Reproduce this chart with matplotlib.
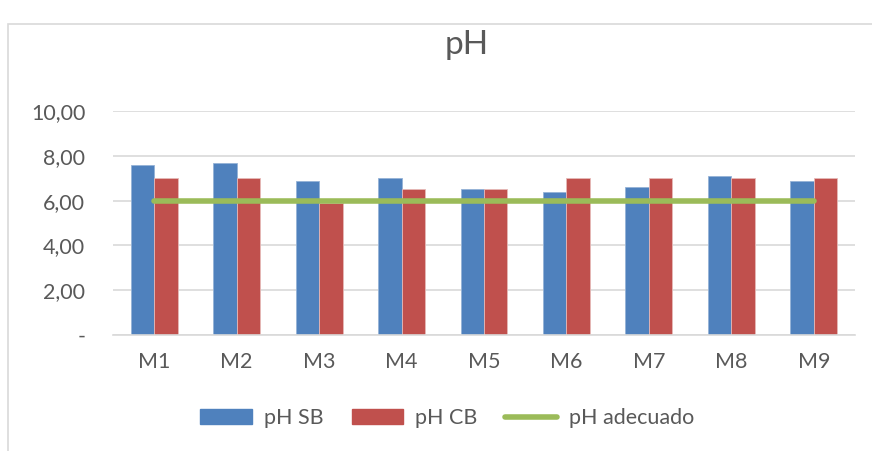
import numpy as np
import matplotlib.pyplot as plt
from matplotlib.patches import Rectangle, Patch
from matplotlib.lines import Line2D
from matplotlib.ticker import FuncFormatter

muestras = ["M1", "M2", "M3", "M4", "M5", "M6", "M7", "M8", "M9"]
ph_sb = [7.6, 7.7, 6.86, 7.0, 6.5, 6.37, 6.62, 7.12, 6.86]
ph_cb = [7.0, 7.0, 5.9, 6.5, 6.5, 7.0, 7.0, 7.0, 7.0]
ph_adecuado = [6.0] * 9

azul = "#4F81BD"
rojo = "#C0504D"
verde = "#9BBB59"
gris_texto = "#595959"

plt.rcParams['font.family'] = ['Lato', 'DejaVu Sans']

fig = plt.figure(figsize=(8.72, 4.51), dpi=100)
ax = fig.add_axes([113/872, 116/451, 742/872, 224/451])

x = np.arange(len(muestras))
ancho = 0.285
ax.bar(x - ancho/2, ph_sb, ancho, color=azul, edgecolor="#95B3D7", linewidth=0.6, zorder=2)
ax.bar(x + ancho/2, ph_cb, ancho, color=rojo, edgecolor="#E6B9B8", linewidth=0.6, zorder=2)
ax.plot(x, ph_adecuado, color=verde, linewidth=4, solid_capstyle="round", zorder=3)

ax.set_xlim(-0.5, len(muestras) - 0.5)
ax.set_ylim(0, 10)
ax.set_yticks([0, 2, 4, 6, 8, 10])
ax.yaxis.set_major_formatter(FuncFormatter(lambda v, p: "-" if v == 0 else f"{v:.2f}".replace(".", ",")))
ax.set_xticks(x)
ax.set_xticklabels(muestras)
ax.grid(axis="y", color="#D9D9D9", linewidth=1.2, zorder=0)
ax.set_axisbelow(True)
for s in ["top", "right", "left"]:
    ax.spines[s].set_visible(False)
ax.spines["bottom"].set_color("#D9D9D9")
ax.spines["bottom"].set_linewidth(1.2)
ax.tick_params(axis="both", length=0, labelsize=15.5, colors=gris_texto)
ax.tick_params(axis="y", pad=20)
ax.tick_params(axis="x", pad=12)

fig.text(0.535, 0.90, "pH", ha="center", va="center", fontsize=24, color=gris_texto)

handles = [
    Patch(facecolor=azul, edgecolor=azul),
    Patch(facecolor=rojo, edgecolor=rojo),
    Line2D([0], [0], color=verde, linewidth=4, solid_capstyle="round"),
]
fig.legend(handles, ["pH SB", "pH CB", "pH adecuado"], loc="center", bbox_to_anchor=(0.513, 0.073),
           ncol=3, frameon=False, fontsize=15.5, labelcolor=gris_texto,
           handlelength=2.4, handleheight=0.65, handletextpad=0.55, columnspacing=1.3)

fig.patches.append(Rectangle((8/872, -0.1), 1.2, 1.073 - 12/451, transform=fig.transFigure,
                             fill=False, edgecolor="#D9D9D9", linewidth=1.2))

fig.savefig("out.png", dpi=100)
